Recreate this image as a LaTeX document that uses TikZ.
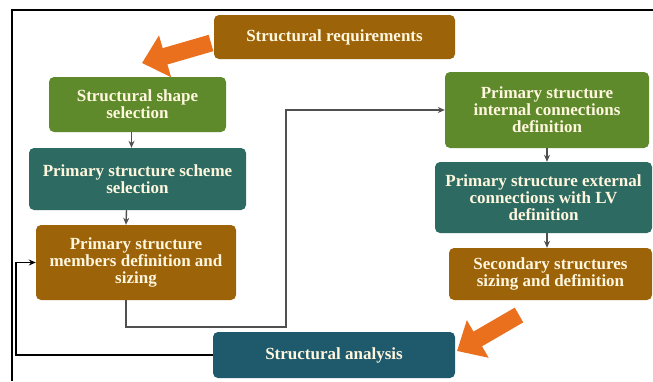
\documentclass[tikz,border=0pt]{standalone}
\usepackage{fontspec}
\setmainfont{Liberation Serif}
\usetikzlibrary{arrows.meta,calc}
\definecolor{cbrown}{RGB}{156,99,8}
\definecolor{cgreen}{RGB}{94,138,43}
\definecolor{cteal}{RGB}{45,107,98}
\definecolor{canalysis}{RGB}{30,90,108}
\definecolor{corange}{RGB}{234,112,30}
\definecolor{ctext}{RGB}{255,246,222}
\definecolor{cconn}{RGB}{80,80,80}
\begin{document}
\begin{tikzpicture}[x=1pt,y=-1pt,
  box/.style n args={2}{rounded corners=5pt, text=ctext,
    font=\bfseries\fontsize{17}{17}\selectfont, align=center,
    inner sep=0pt, minimum width=#1pt, minimum height=#2pt},
  conn/.style={draw=cconn, line width=1.4pt, -{Stealth[length=7pt,width=6pt]}},
  fb/.style={draw=black, line width=1.4pt, -{Stealth[length=7pt,width=6pt]}},
  bigarrow/.style={draw=corange, line width=17pt, -{Triangle[width=42pt,length=24pt]}}]
\useasboundingbox (0,0) rectangle (653,381);
\fill[white] (0,0) rectangle (653,381);
% frame
\draw[line width=1.5pt] (12,381) -- (12,10) -- (653,10);
% boxes
\node[box={241}{44}, fill=cbrown] (req) at (334.5,37) {Structural requirements};
\node[box={177}{55}, fill=cgreen] (shape) at (137.5,104.5) {Structural shape\\selection};
\node[box={217}{62}, fill=cteal] (scheme) at (137.5,179) {Primary structure scheme\\selection};
\node[box={200}{75}, fill=cbrown] (members) at (136,262.5) {Primary structure\\members definition and\\sizing};
\node[box={204}{76}, fill=cgreen] (internal) at (547,110) {Primary structure\\internal connections\\definition};
\node[box={217}{71}, fill=cteal] (external) at (543.5,197.5) {Primary structure external\\connections with LV\\definition};
\node[box={203}{52}, fill=cbrown] (secondary) at (550.5,274) {Secondary structures\\sizing and definition};
\node[box={242}{46}, fill=canalysis] (analysis) at (334,355) {Structural analysis};
% coordinates
\coordinate (bend) at (286,327);
\coordinate (fbc) at (16,355);
\coordinate (o1s) at (211,43);
\coordinate (o1e) at (142,63);
\coordinate (o2s) at (519,315);
\coordinate (o2e) at (457,351);
% connectors
\draw[conn] ($(shape.south)+(-6,0)$) -- ($(scheme.north)+(-6,0)$);
\draw[conn] ($(scheme.south)+(-11,0)$) -- ($(members.north)+(-10,0)$);
\draw[conn] ($(members.south)+(-10,0)$) |- (bend) |- (internal.west);
\draw[conn] (internal.south) -- (internal.south |- external.north);
\draw[conn] (external.south -| internal.south) -- (secondary.north -| internal.south);
\draw[fb] (analysis.west) -- (fbc) |- (members.west);
% orange arrows
\draw[bigarrow] (o1s) -- (o1e);
\draw[bigarrow] (o2s) -- (o2e);
\end{tikzpicture}
\end{document}
